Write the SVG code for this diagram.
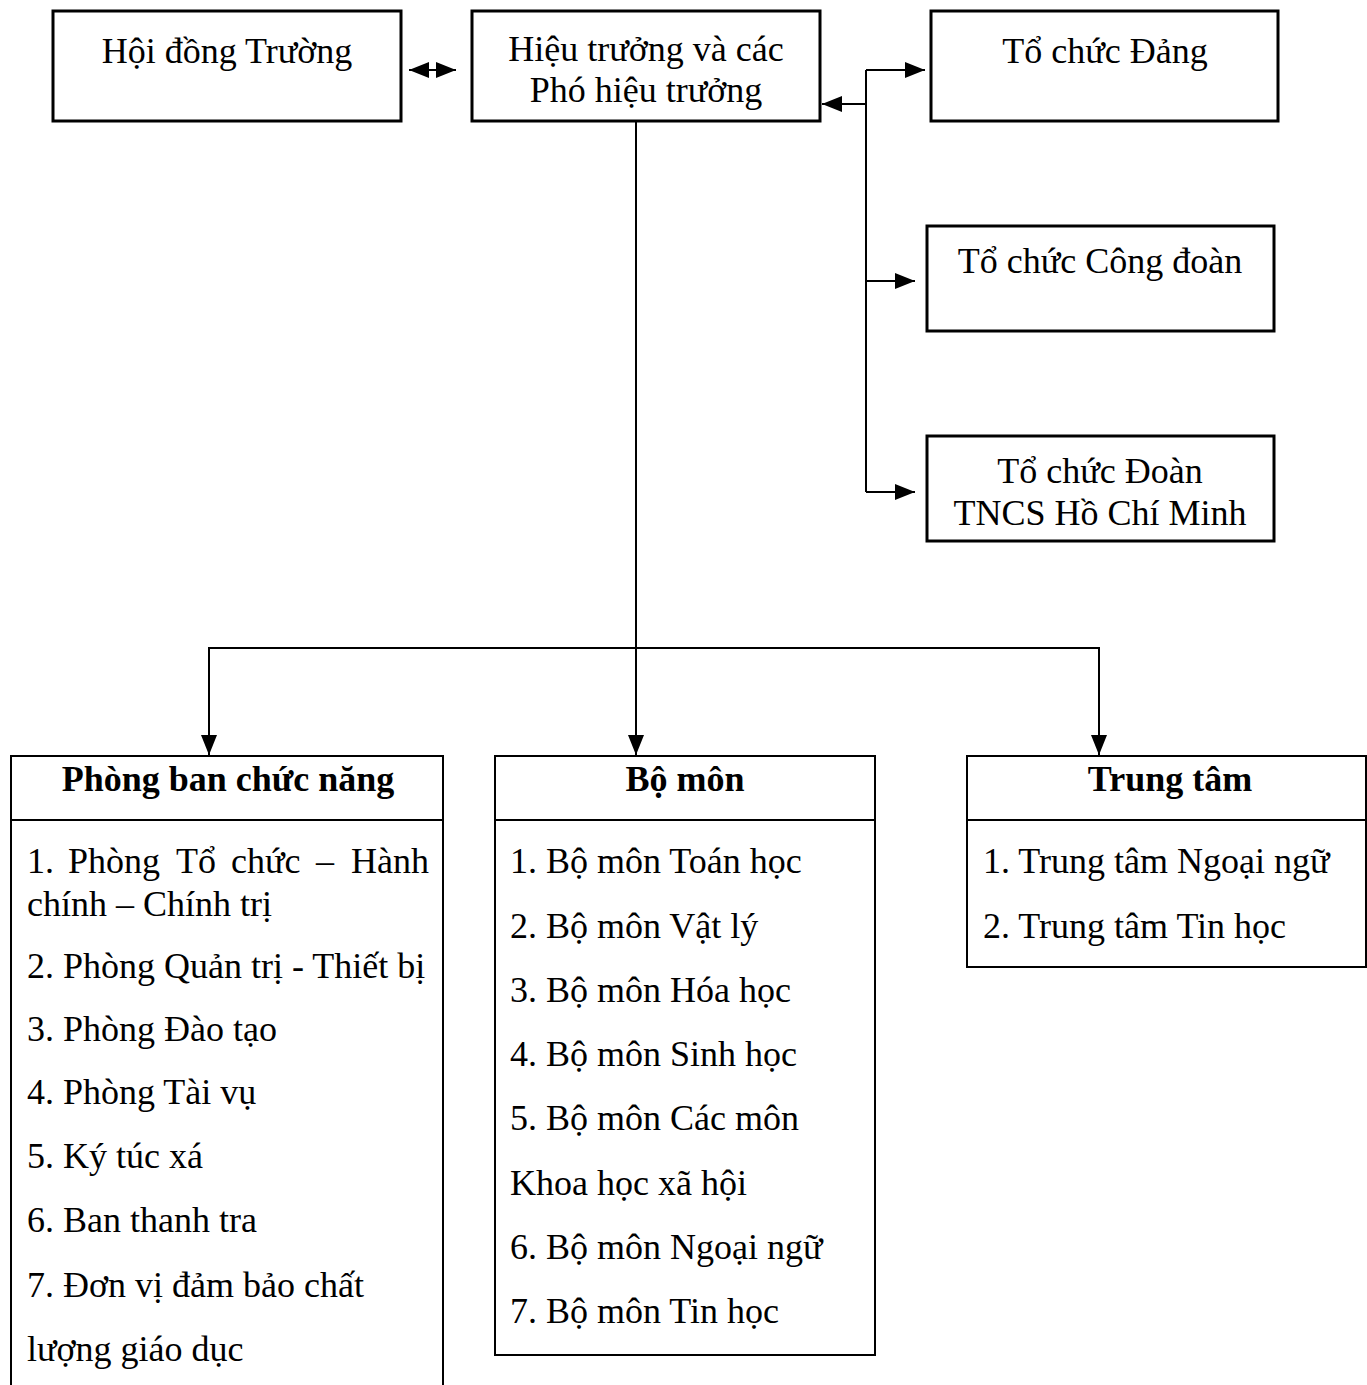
<svg xmlns="http://www.w3.org/2000/svg" width="1367" height="1385" viewBox="0 0 1367 1385">
<defs>
<style>
.box{fill:#fff;stroke:#000;stroke-width:3}
.thin{fill:none;stroke:#000;stroke-width:2}
.ln{fill:none;stroke:#000;stroke-width:2}
text{font-family:"Liberation Serif","Times New Roman",serif;font-size:36px;fill:#000}
.c{text-anchor:middle}
.b{font-weight:bold}
</style>
<marker id="ahL" viewBox="0 0 20 16" refX="20" refY="8" markerWidth="20" markerHeight="16" markerUnits="userSpaceOnUse" orient="auto-start-reverse"><path d="M0,0 L20,8 L0,16 z" fill="#000"/></marker>
</defs>
<rect width="1367" height="1385" fill="#fff"/>
<g id="hoi-dong">
<rect class="box" x="53" y="11" width="348" height="110"/>
<text class="c" x="227" y="63">Hội đồng Trường</text>
</g>
<g id="hieu-truong">
<rect class="box" x="472" y="11" width="348" height="110"/>
<text class="c" x="646" y="61">Hiệu trưởng và các</text>
<text class="c" x="646" y="102">Phó hiệu trưởng</text>
</g>
<g id="dang">
<rect class="box" x="931" y="11" width="347" height="110"/>
<text class="c" x="1105" y="63">Tổ chức Đảng</text>
</g>
<g id="cong-doan">
<rect class="box" x="927" y="226" width="347" height="105"/>
<text class="c" x="1100" y="273">Tổ chức Công đoàn</text>
</g>
<g id="doan">
<rect class="box" x="927" y="436" width="347" height="105"/>
<text class="c" x="1100" y="483">Tổ chức Đoàn</text>
<text class="c" x="1100" y="525">TNCS Hồ Chí Minh</text>
</g>
<g id="phong-ban">
<path class="thin" d="M11,1385 V756 H443 V1385"/>
<line class="thin" x1="11" y1="820" x2="443" y2="820"/>
<text class="c b" x="228" y="791">Phòng ban chức năng</text>
<text x="27" y="873">1.</text>
<text x="68" y="873">Phòng</text>
<text x="176" y="873">Tổ</text>
<text x="231" y="873">chức</text>
<text x="316" y="873">–</text>
<text x="429" y="873" text-anchor="end">Hành</text>
<text x="27" y="916">chính – Chính trị</text>
<text x="27" y="978">2. Phòng Quản trị - Thiết bị</text>
<text x="27" y="1041">3. Phòng Đào tạo</text>
<text x="27" y="1104">4. Phòng Tài vụ</text>
<text x="27" y="1168">5. Ký túc xá</text>
<text x="27" y="1232">6. Ban thanh tra</text>
<text x="27" y="1297">7. Đơn vị đảm bảo chất</text>
<text x="27" y="1361">lượng giáo dục</text>
</g>
<g id="bo-mon">
<rect class="thin" x="495" y="756" width="380" height="599"/>
<line class="thin" x1="495" y1="820" x2="875" y2="820"/>
<text class="c b" x="685" y="791">Bộ môn</text>
<text x="510" y="873">1. Bộ môn Toán học</text>
<text x="510" y="938">2. Bộ môn Vật lý</text>
<text x="510" y="1002">3. Bộ môn Hóa học</text>
<text x="510" y="1066">4. Bộ môn Sinh học</text>
<text x="510" y="1130">5. Bộ môn Các môn</text>
<text x="510" y="1195">Khoa học xã hội</text>
<text x="510" y="1259">6. Bộ môn Ngoại ngữ</text>
<text x="510" y="1323">7. Bộ môn Tin học</text>
</g>
<g id="trung-tam">
<rect class="thin" x="967" y="756" width="399" height="211"/>
<line class="thin" x1="967" y1="820" x2="1366" y2="820"/>
<text class="c b" x="1170" y="791">Trung tâm</text>
<text x="983" y="873">1. Trung tâm Ngoại ngữ</text>
<text x="983" y="938">2. Trung tâm Tin học</text>
</g>
<g id="connectors">
<line class="ln" x1="409" y1="70" x2="456" y2="70" marker-start="url(#ahL)" marker-end="url(#ahL)"/>
<line class="ln" x1="866" y1="70" x2="866" y2="492"/>
<line class="ln" x1="866" y1="70" x2="925" y2="70" marker-end="url(#ahL)"/>
<line class="ln" x1="866" y1="104" x2="822" y2="104" marker-end="url(#ahL)"/>
<line class="ln" x1="866" y1="281" x2="915" y2="281" marker-end="url(#ahL)"/>
<line class="ln" x1="866" y1="492" x2="915" y2="492" marker-end="url(#ahL)"/>
<line class="ln" x1="636" y1="122" x2="636" y2="755" marker-end="url(#ahL)"/>
<polyline class="ln" points="209,755 209,648 1099,648 1099,755" marker-start="url(#ahL)" marker-end="url(#ahL)"/>
</g>
</svg>
